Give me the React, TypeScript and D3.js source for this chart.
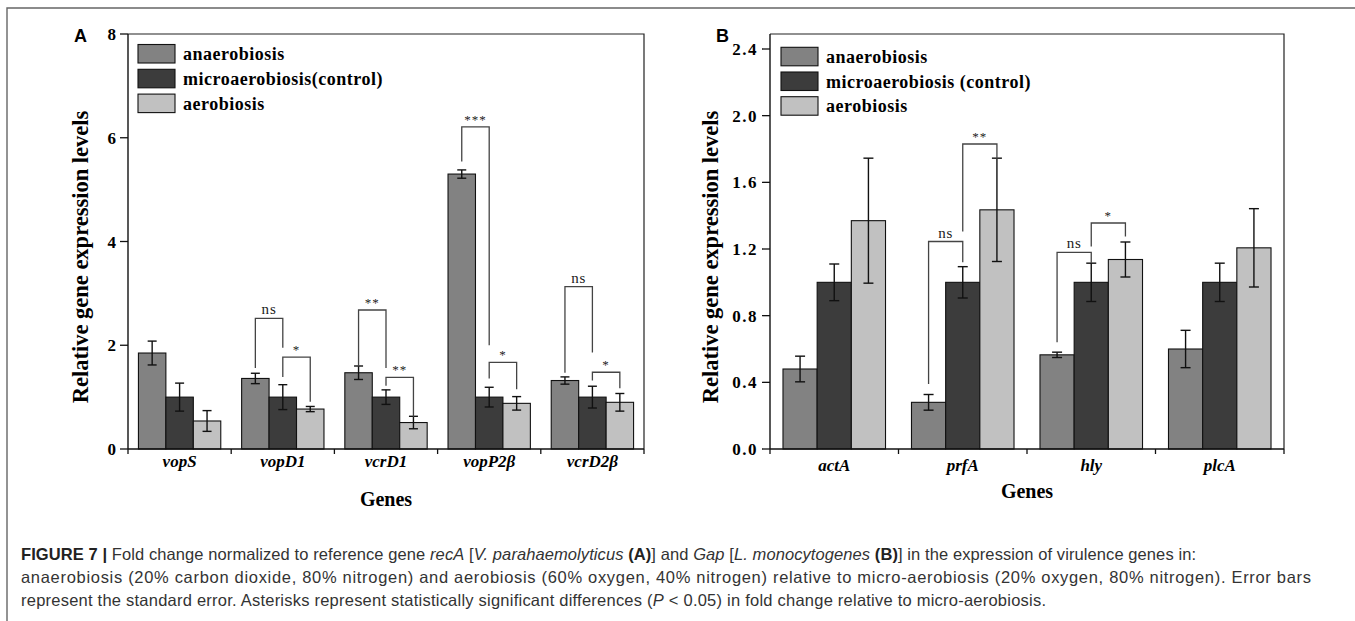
import * as d3 from "d3";
import React from "react";

// series shared by both panels
const seriesColors = ["#828282", "#3c3c3c", "#c1c1c1"];
const legendA = ["anaerobiosis", "microaerobiosis(control)", "aerobiosis"];
const legendB = ["anaerobiosis", "microaerobiosis (control)", "aerobiosis"];

// panel A: V. parahaemolyticus
const genesA = ["vopS", "vopD1", "vcrD1", "vopP2β", "vcrD2β"];
const anaeroA = [1.85, 1.36, 1.47, 5.3, 1.32];
const anaeroErrA = [0.23, 0.1, 0.13, 0.08, 0.07];
const microA = [1.0, 1.0, 1.0, 1.0, 1.0];
const microErrA = [0.27, 0.24, 0.14, 0.19, 0.21];
const aeroA = [0.54, 0.77, 0.51, 0.88, 0.9];
const aeroErrA = [0.2, 0.05, 0.12, 0.13, 0.17];
const ticksA = [0, 2, 4, 6, 8];

// significance brackets: gene, from series, to series, top, left leg end, right leg end
const bracketsA = [
  { g: 1, a: 0, b: 1, top: 2.52, endA: 1.56, endB: 1.95, label: "ns" },
  { g: 1, a: 1, b: 2, top: 1.77, endA: 1.39, endB: 0.91, label: "*" },
  { g: 2, a: 0, b: 1, top: 2.68, endA: 1.59, endB: 1.56, label: "**" },
  { g: 2, a: 1, b: 2, top: 1.38, endA: 1.22, endB: 0.62, label: "**" },
  { g: 3, a: 0, b: 1, top: 6.21, endA: 5.54, endB: 2.0, label: "***" },
  { g: 3, a: 1, b: 2, top: 1.67, endA: 1.36, endB: 1.15, label: "*" },
  { g: 4, a: 0, b: 1, top: 3.13, endA: 1.47, endB: 1.86, label: "ns" },
  { g: 4, a: 1, b: 2, top: 1.48, endA: 1.32, endB: 1.17, label: "*" },
];

// panel B: L. monocytogenes
const genesB = ["actA", "prfA", "hly", "plcA"];
const anaeroB = [0.48, 0.28, 0.565, 0.6];
const anaeroErrB = [0.077, 0.047, 0.016, 0.112];
const microB = [1.0, 1.0, 1.0, 1.0];
const microErrB = [0.11, 0.094, 0.115, 0.115];
const aeroB = [1.37, 1.435, 1.137, 1.207];
const aeroErrB = [0.375, 0.31, 0.105, 0.235];
const ticksB = [0, 0.4, 0.8, 1.2, 1.6, 2.0, 2.4];

const bracketsB = [
  { g: 1, a: 0, b: 1, top: 1.245, endA: 0.39, endB: 1.12, label: "ns" },
  { g: 1, a: 1, b: 2, top: 1.83, endA: 1.305, endB: 1.74, label: "**" },
  { g: 2, a: 0, b: 1, top: 1.18, endA: 0.64, endB: 1.116, label: "ns" },
  { g: 2, a: 1, b: 2, top: 1.356, endA: 1.215, endB: 1.275, label: "*" },
];

const serif = "'Liberation Serif', 'Times New Roman', serif";
const sans = "'Liberation Sans', Arial, sans-serif";

interface Bracket {
  g: number; a: number; b: number; top: number; endA: number; endB: number; label: string
}

interface PanelProps {
  letter: string
  genes: string[]
  values: number[][]
  errors: number[][]
  brackets: Bracket[]
  legend: string[]
  ticks: number[]
  tickFormat: (v: number) => string
  yMax: number
  left: number
  right: number
  top: number
  bottom: number
  titleY: number
  genesY: number
  tickY: number
  capW: number
  legendX: number
  legendY: number
  legendStep: number
  tickSpacing: number
}

const Panel: React.FC<PanelProps> = (p) => {
  const x = d3.scaleBand<string>().domain(p.genes).range([p.left, p.right]);
  const xi = d3.scaleBand<number>().domain([0, 1, 2]).range([0, x.bandwidth()]).paddingOuter(0.38);
  const y = d3.scaleLinear().domain([0, p.yMax]).range([p.bottom, p.top]);
  const cx = (g: number, s: number) => (x(p.genes[g]) ?? 0) + (xi(s) ?? 0) + xi.bandwidth() / 2;
  const boundaries = [...p.genes.map(g => x(g) ?? 0), p.right];

  return (
    <g>
      <text x={p.left - 54} y={p.top + 8} fontFamily={sans} fontWeight="bold" fontSize={18} textAnchor="start">{p.letter}</text>

      {/* bars */}
      {p.genes.map((g, gi) => p.values.map((vals, s) => (
        <rect key={g + s}
          x={(x(g) ?? 0) + (xi(s) ?? 0)} y={y(vals[gi])}
          width={xi.bandwidth()} height={p.bottom - y(vals[gi])}
          fill={seriesColors[s]} stroke="#111" strokeWidth={1.1} />
      )))}

      {/* error bars */}
      {p.genes.map((g, gi) => p.values.map((vals, s) => {
        const c = cx(gi, s);
        const hi = y(vals[gi] + p.errors[s][gi]);
        const lo = y(vals[gi] - p.errors[s][gi]);
        return (
          <g key={"e" + g + s} stroke="#111" strokeWidth={1.4}>
            <line x1={c} x2={c} y1={hi} y2={lo} />
            <line x1={c - p.capW} x2={c + p.capW} y1={hi} y2={hi} />
            <line x1={c - p.capW} x2={c + p.capW} y1={lo} y2={lo} />
          </g>
        );
      }))}

      {/* significance brackets */}
      {p.brackets.map((b, i) => {
        const xa = cx(b.g, b.a);
        const xb = cx(b.g, b.b);
        const yt = y(b.top);
        const ns = b.label === "ns";
        return (
          <g key={"b" + i}>
            <path d={`M${xa},${y(b.endA)}V${yt}H${xb}V${y(b.endB)}`} fill="none" stroke="#444" strokeWidth={1.3} />
            <text x={(xa + xb) / 2} y={ns ? yt - 4 : yt - 3} textAnchor="middle" fontFamily={serif}
              fontSize={ns ? 15 : 13} letterSpacing={ns ? 0.8 : 1} fill="#222">{b.label}</text>
          </g>
        );
      })}

      {/* frame and axes */}
      <path d={`M${p.left},${p.top}H${p.right}V${p.bottom}`} fill="none" stroke="#222" strokeWidth={1.2} />
      <line x1={p.left} x2={p.left} y1={p.top} y2={p.bottom} stroke="#111" strokeWidth={1.4} />
      <line x1={p.left} x2={p.right} y1={p.bottom} y2={p.bottom} stroke="#111" strokeWidth={1.4} />
      {p.ticks.map(t => (
        <g key={"t" + t}>
          <line x1={p.left - 8} x2={p.left} y1={y(t)} y2={y(t)} stroke="#111" strokeWidth={1.3} />
          <text x={p.left - 12} y={y(t) + 6} textAnchor="end" fontFamily={serif} fontWeight="bold" fontSize={17} letterSpacing={p.tickSpacing}>{p.tickFormat(t)}</text>
        </g>
      ))}
      {boundaries.map((bx, i) => (
        <line key={"xt" + i} x1={bx} x2={bx} y1={p.bottom} y2={p.bottom + 5} stroke="#111" strokeWidth={1.3} />
      ))}
      {p.genes.map(g => (
        <text key={"xl" + g} x={(x(g) ?? 0) + x.bandwidth() / 2} y={p.tickY} textAnchor="middle"
          fontFamily={serif} fontWeight="bold" fontStyle="italic" fontSize={17}>{g}</text>
      ))}
      <text x={(p.left + p.right) / 2} y={p.genesY} textAnchor="middle" fontFamily={serif} fontWeight="bold" fontSize={20}>Genes</text>
      <text transform={`translate(${p.titleY},257) rotate(-90)`} textAnchor="middle" fontFamily={serif} fontWeight="bold" fontSize={22.5}>Relative gene expression levels</text>

      {/* legend */}
      {p.legend.map((name, i) => (
        <g key={"lg" + i}>
          <rect x={p.legendX} y={p.legendY + i * p.legendStep} width={37} height={18.5} fill={seriesColors[i]} stroke="#111" strokeWidth={1.1} />
          <text x={p.legendX + 45} y={p.legendY + i * p.legendStep + 15.5} fontFamily={serif} fontWeight="bold" fontSize={18} letterSpacing={0.5}>{name}</text>
        </g>
      ))}
    </g>
  );
};

const App: React.FC = () => {
  const fmtA = d3.format("d");
  const fmtB = d3.format(".1f");
  return (
    <svg width={1355} height={621} style={{ position: "absolute", left: 0, top: 0, background: "#fff" }}>
      <path d="M7,621V8H1355" fill="none" stroke="#666" strokeWidth={1.4} />
      <Panel letter="A" genes={genesA} values={[anaeroA, microA, aeroA]} errors={[anaeroErrA, microErrA, aeroErrA]}
        brackets={bracketsA} legend={legendA} ticks={ticksA} tickFormat={fmtA} yMax={8}
        left={128} right={644} top={34} bottom={449} titleY={88} genesY={506} tickY={467} capW={4.5}
        legendX={138} legendY={44.5} legendStep={24.8} tickSpacing={0} />
      <Panel letter="B" genes={genesB} values={[anaeroB, microB, aeroB]} errors={[anaeroErrB, microErrB, aeroErrB]}
        brackets={bracketsB} legend={legendB} ticks={ticksB} tickFormat={fmtB} yMax={2.49}
        left={770} right={1284} top={34} bottom={449} titleY={718} genesY={498} tickY={471} capW={5}
        legendX={781} legendY={47.3} legendStep={24.7} tickSpacing={1.5} />
      <g fontFamily={sans} fontSize={16.5} fill="#333">
        <text x={21} y={560} textLength={1175} lengthAdjust="spacing">
          <tspan fontWeight="bold" fill="#222">FIGURE 7 |</tspan> Fold change normalized to reference gene <tspan fontStyle="italic">recA</tspan> [<tspan fontStyle="italic">V. parahaemolyticus</tspan> <tspan fontWeight="bold" fill="#222">(A)</tspan>] and <tspan fontStyle="italic">Gap</tspan> [<tspan fontStyle="italic">L. monocytogenes</tspan> <tspan fontWeight="bold" fill="#222">(B)</tspan>] in the expression of virulence genes in:
        </text>
        <text x={21} y={583} textLength={1290} lengthAdjust="spacing">
          anaerobiosis (20% carbon dioxide, 80% nitrogen) and aerobiosis (60% oxygen, 40% nitrogen) relative to micro-aerobiosis (20% oxygen, 80% nitrogen). Error bars
        </text>
        <text x={21} y={606} textLength={1025} lengthAdjust="spacing">
          represent the standard error. Asterisks represent statistically significant differences (<tspan fontStyle="italic">P</tspan> &lt; 0.05) in fold change relative to micro-aerobiosis.
        </text>
      </g>
    </svg>
  );
};

export default App;
